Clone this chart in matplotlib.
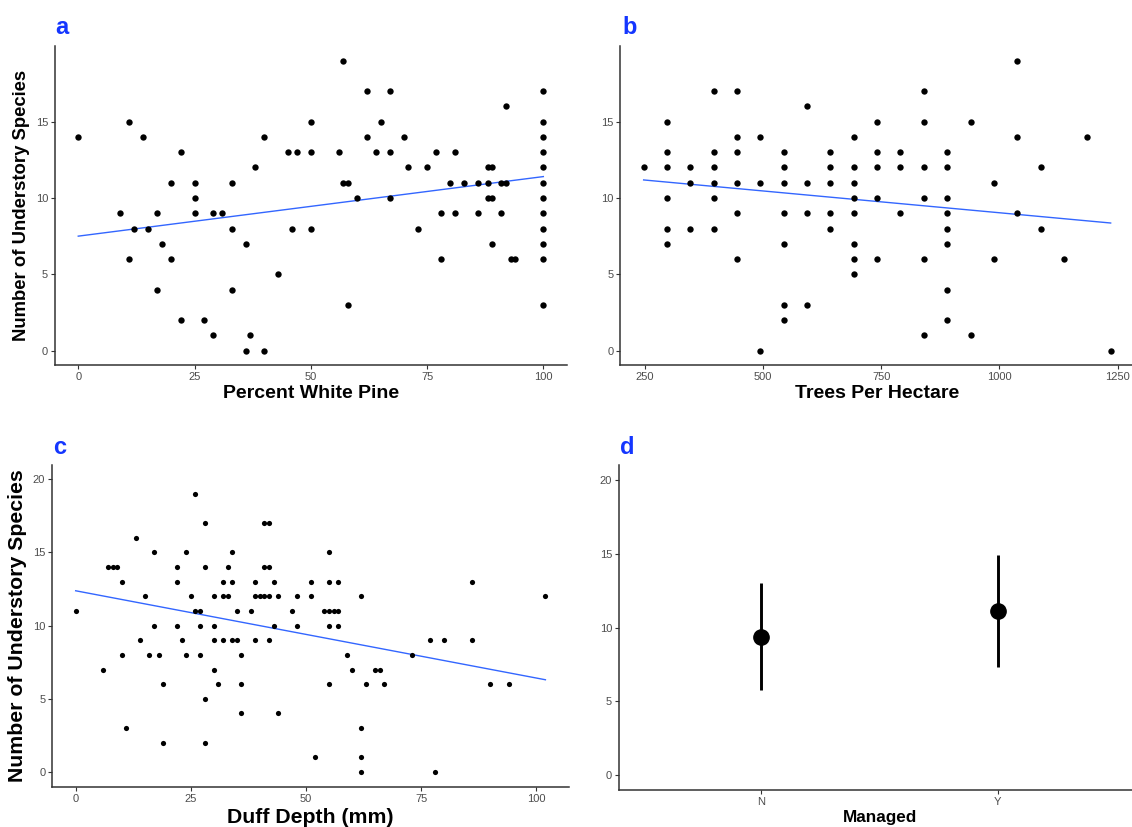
import numpy as np
import matplotlib.pyplot as plt

plt.rcParams['font.family'] = ['Liberation Sans', 'DejaVu Sans']

# panel a: percent white pine vs number of understory species
a_x = [0, 11, 14, 22, 38, 40, 45, 47, 50, 50, 20, 25, 33, 25, 9, 17, 25, 29, 31,
       12, 15, 33, 46, 50, 18, 36, 11, 20, 43, 17, 33, 22, 27, 29, 37, 36, 40,
       57, 62, 67, 100, 92, 65, 100, 62, 70, 100, 56, 64, 67, 77, 81, 100,
       71, 75, 88, 89, 100, 57, 58, 80, 83, 86, 88, 91, 92, 100,
       60, 67, 88, 89, 100, 78, 81, 86, 91, 100, 73, 100, 89, 100,
       78, 93, 94, 100, 58, 100]
a_y = [14, 15, 14, 13, 12, 14, 13, 13, 13, 15, 11, 11, 11, 10, 9, 9, 9, 9, 9,
       8, 8, 8, 8, 8, 7, 7, 6, 6, 5, 4, 4, 2, 2, 1, 1, 0, 0,
       19, 17, 17, 17, 16, 15, 15, 14, 14, 14, 13, 13, 13, 13, 13, 13,
       12, 12, 12, 12, 12, 11, 11, 11, 11, 11, 11, 11, 11, 11,
       10, 10, 10, 10, 10, 9, 9, 9, 9, 9, 8, 8, 7, 7,
       6, 6, 6, 6, 3, 3]
# lm line (value at min x, value at max x)
a_fit = [7.5, 11.4]

# panel b: trees per hectare
b_x = [247.1,
       296.5, 296.5, 296.5, 296.5, 296.5, 296.5,
       345.9, 345.9, 345.9,
       395.4, 395.4, 395.4, 395.4, 395.4, 395.4,
       444.8, 444.8, 444.8, 444.8, 444.8, 444.8,
       494.2, 494.2, 494.2,
       543.6, 543.6, 543.6, 543.6, 543.6, 543.6, 543.6,
       593.0, 593.0, 593.0, 593.0,
       642.5, 642.5, 642.5, 642.5, 642.5,
       691.9, 691.9, 691.9, 691.9, 691.9, 691.9, 691.9, 691.9,
       741.3, 741.3, 741.3, 741.3, 741.3,
       790.7, 790.7, 790.7,
       840.1, 840.1, 840.1, 840.1, 840.1, 840.1,
       889.6, 889.6, 889.6, 889.6, 889.6, 889.6, 889.6, 889.6,
       939.0, 939.0,
       988.4, 988.4,
       1037.8, 1037.8, 1037.8,
       1087.3, 1087.3,
       1136.7, 1186.1, 1235.5]
b_y = [12,
       15, 13, 12, 10, 8, 7,
       12, 11, 8,
       17, 13, 12, 11, 10, 8,
       17, 14, 13, 11, 9, 6,
       14, 11, 0,
       13, 12, 11, 9, 7, 3, 2,
       16, 11, 9, 3,
       13, 12, 11, 9, 8,
       14, 12, 11, 10, 9, 7, 6, 5,
       15, 13, 12, 10, 6,
       13, 12, 9,
       17, 15, 12, 10, 6, 1,
       13, 12, 10, 9, 8, 7, 4, 2,
       15, 1,
       11, 6,
       19, 14, 9,
       12, 8,
       6, 14, 0]
b_fit = [11.18, 8.36]

# panel c: duff depth (mm)
c_x = [26, 28, 41, 42, 13, 17, 24, 34, 7, 8, 9, 22, 28, 33, 41, 42,
       10, 22, 32, 34, 39, 43, 51, 15, 25, 30, 32, 33, 39, 40, 41, 42, 44, 48, 51,
       0, 26, 27, 35, 38, 47, 17, 22, 27, 30, 43, 48,
       14, 23, 30, 32, 34, 35, 39, 42, 10, 16, 18, 24, 27, 36,
       6, 30, 19, 31, 36, 28, 36, 44, 11, 19, 28, 52,
       55, 55, 57, 86, 62, 102, 54, 55, 56, 57, 55, 57, 77, 80, 86,
       59, 73, 60, 65, 66, 55, 63, 67, 90, 94, 62, 62, 62, 78]
c_y = [19, 17, 17, 17, 16, 15, 15, 15, 14, 14, 14, 14, 14, 14, 14, 14,
       13, 13, 13, 13, 13, 13, 13, 12, 12, 12, 12, 12, 12, 12, 12, 12, 12, 12, 12,
       11, 11, 11, 11, 11, 11, 10, 10, 10, 10, 10, 10,
       9, 9, 9, 9, 9, 9, 9, 9, 8, 8, 8, 8, 8, 8,
       7, 7, 6, 6, 6, 5, 4, 4, 3, 2, 2, 1,
       15, 13, 13, 13, 12, 12, 11, 11, 11, 11, 10, 10, 9, 9, 9,
       8, 8, 7, 7, 7, 6, 6, 6, 6, 6, 3, 1, 0, 0]
c_fit = [12.38, 6.3]

# panel d: managed vs not, mean +/- sd
d_groups = ["N", "Y"]
d_mean = [9.37, 11.13]
d_low = [5.75, 7.33]
d_high = [13.03, 14.95]

W, H = 1132, 827
BLUE_LAB = "#1436ff"
LINE = "#3366FF"
AX = "#333333"
TICKLAB = "#4d4d4d"


def add_axes(l, t, r, b):
    return fig.add_axes([l / W, 1 - b / H, (r - l) / W, (b - t) / H])


def style(ax):
    for s in ["top", "right"]:
        ax.spines[s].set_visible(False)
    for s in ["left", "bottom"]:
        ax.spines[s].set_color(AX)
        ax.spines[s].set_linewidth(1.1)
    ax.tick_params(colors=AX, labelcolor=TICKLAB, labelsize=8,
                   length=3, width=0.8, pad=2)


def scatter_fit(ax, x, y, fit, size):
    ax.scatter(x, y, s=size, color="black", linewidths=0, zorder=3)
    ax.plot([min(x), max(x)], fit, color=LINE, lw=1.0, zorder=2)


fig = plt.figure(figsize=(W / 100, H / 100), dpi=100)

ax_a = add_axes(55, 46, 566.6, 365.2)
scatter_fit(ax_a, a_x, a_y, a_fit, 21)
ax_a.set_xlim(-5, 105)
ax_a.set_ylim(-0.95, 19.95)
ax_a.set_xticks([0, 25, 50, 75, 100])
ax_a.set_yticks([0, 5, 10, 15])
ax_a.set_xlabel("Percent White Pine", fontsize=14, fontweight="bold", labelpad=2)
ax_a.set_ylabel("Number of Understory Species", fontsize=13.3, fontweight="bold", labelpad=4)
style(ax_a)

ax_b = add_axes(620.3, 46, 1134, 365.2)
scatter_fit(ax_b, b_x, b_y, b_fit, 21)
ax_b.set_xlim(197.7, 1284.9)
ax_b.set_ylim(-0.95, 19.95)
ax_b.set_xticks([250, 500, 750, 1000, 1250])
ax_b.set_yticks([0, 5, 10, 15])
ax_b.set_xlabel("Trees Per Hectare", fontsize=14, fontweight="bold", labelpad=2)
style(ax_b)

ax_c = add_axes(52.2, 464.6, 568.9, 786.6)
scatter_fit(ax_c, c_x, c_y, c_fit, 14)
ax_c.set_xlim(-5.1, 107.1)
ax_c.set_ylim(-1, 21)
ax_c.set_xticks([0, 25, 50, 75, 100])
ax_c.set_yticks([0, 5, 10, 15, 20])
ax_c.set_xlabel("Duff Depth (mm)", fontsize=15.3, fontweight="bold", labelpad=3)
ax_c.set_ylabel("Number of Understory Species", fontsize=15.3, fontweight="bold", labelpad=4)
style(ax_c)

ax_d = add_axes(619, 465.3, 1140, 789.8)
pos = np.arange(1, len(d_groups) + 1)
ax_d.vlines(pos, d_low, d_high, color="black", lw=2.1, zorder=2)
ax_d.plot(pos, d_mean, "o", color="black", ms=11, zorder=3)
ax_d.set_xlim(0.4, 2.6)
ax_d.set_ylim(-1, 21)
ax_d.set_xticks(pos)
ax_d.set_xticklabels(d_groups)
ax_d.set_yticks([0, 5, 10, 15, 20])
ax_d.set_xlabel("Managed", fontsize=12.3, fontweight="bold", labelpad=2)
style(ax_d)

for lab, (px, py) in zip("abcd", [(55, 34), (622, 34), (53, 454), (620, 454)]):
    fig.text(px / W, 1 - py / H, lab, color=BLUE_LAB, fontsize=17,
             fontweight="bold", va="baseline", ha="left")

fig.savefig("out.png", dpi=100)
